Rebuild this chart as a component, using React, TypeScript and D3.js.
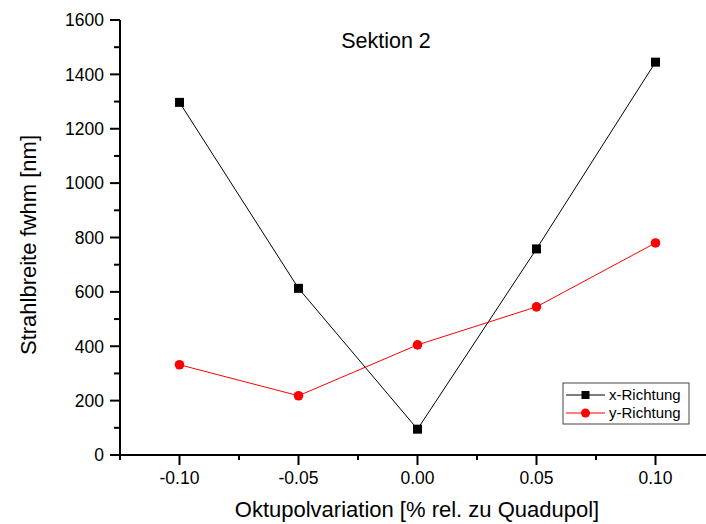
import React from "react";
import * as d3 from "d3";

const xValues = [-0.1, -0.05, 0.0, 0.05, 0.1];
const xRichtung = [1297, 613, 95, 758, 1445];
const yRichtung = [332, 218, 405, 545, 780];
const yTicks = [0, 200, 400, 600, 800, 1000, 1200, 1400, 1600];
const xTicks = [-0.1, -0.05, 0.0, 0.05, 0.1];
const seriesNames = ["x-Richtung", "y-Richtung"];

const W = 706;
const H = 524;
const font = "Arial, 'Liberation Sans', sans-serif";

// fixed two decimals with an ASCII hyphen as minus sign
const fmtX = (v: number) => d3.format(".2f")(v).replace("\u2212", "-");

export default function App() {
  const x = d3.scaleLinear().domain([-0.125, 0.125]).range([120, 715]);
  const y = d3.scaleLinear().domain([0, 1600]).range([455, 20]);
  const line = d3
    .line<number>()
    .x((_, i) => x(xValues[i]))
    .y((d) => y(d));

  const yMinor = d3.range(100, 1600, 200);
  const xMinor = d3.range(-0.125, 0.126, 0.05);

  return (
    <svg
      width={W}
      height={H}
      style={{ position: "absolute", left: 0, top: 0, background: "#fff" }}
      fontFamily={font}
    >
      {/* axes */}
      <line x1={120} y1={20} x2={120} y2={455} stroke="#000" strokeWidth={2} />
      <line x1={119} y1={455} x2={W} y2={455} stroke="#000" strokeWidth={2} />
      {yTicks.map((t) => (
        <g key={"yt" + t}>
          <line x1={110} x2={120} y1={y(t)} y2={y(t)} stroke="#000" strokeWidth={2} />
          <text x={104} y={y(t)} dy="0.36em" textAnchor="end" fontSize={17.5}>
            {t}
          </text>
        </g>
      ))}
      {yMinor.map((t) => (
        <line key={"ym" + t} x1={114} x2={120} y1={y(t)} y2={y(t)} stroke="#000" strokeWidth={2} />
      ))}
      {xTicks.map((t) => (
        <g key={"xt" + t}>
          <line x1={x(t)} x2={x(t)} y1={455} y2={465} stroke="#000" strokeWidth={2} />
          <text x={x(t)} y={484} textAnchor="middle" fontSize={17.5}>
            {fmtX(t)}
          </text>
        </g>
      ))}
      {xMinor.map((t) => (
        <line key={"xm" + t} x1={x(t)} x2={x(t)} y1={455} y2={460} stroke="#000" strokeWidth={2} />
      ))}

      {/* titles */}
      <text x={386} y={48} textAnchor="middle" fontSize={21.5}>
        Sektion 2
      </text>
      <text x={417} y={517} textAnchor="middle" fontSize={22}>
        Oktupolvariation [% rel. zu Quadupol]
      </text>
      <text
        transform={`translate(36, 245) rotate(-90)`}
        textAnchor="middle"
        fontSize={22}
      >
        Strahlbreite fwhm [nm]
      </text>

      {/* series */}
      <path d={line(xRichtung) ?? ""} fill="none" stroke="#000" strokeWidth={1} />
      <path d={line(yRichtung) ?? ""} fill="none" stroke="#f00" strokeWidth={1} />
      {xRichtung.map((v, i) => (
        <rect key={"xs" + i} x={x(xValues[i]) - 4.5} y={y(v) - 4.5} width={9} height={9} fill="#000" />
      ))}
      {yRichtung.map((v, i) => (
        <circle key={"ys" + i} cx={x(xValues[i])} cy={y(v)} r={4.8} fill="#f00" />
      ))}

      {/* legend */}
      <rect x={563} y={383} width={126} height={41} fill="#fff" stroke="#444" strokeWidth={1} />
      <line x1={566} x2={605} y1={395} y2={395} stroke="#000" strokeWidth={1} />
      <rect x={581.5} y={391} width={8} height={8} fill="#000" />
      <text x={609} y={395} dy="0.36em" fontSize={15}>
        {seriesNames[0]}
      </text>
      <line x1={566} x2={605} y1={413} y2={413} stroke="#f00" strokeWidth={1} />
      <circle cx={585.5} cy={413} r={4.5} fill="#f00" />
      <text x={609} y={413} dy="0.36em" fontSize={15}>
        {seriesNames[1]}
      </text>
    </svg>
  );
}
